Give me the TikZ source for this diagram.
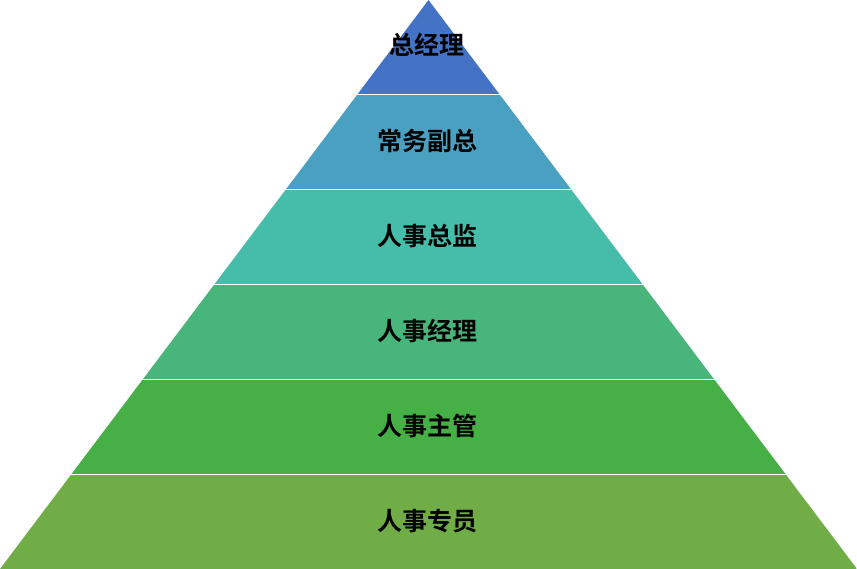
\documentclass[tikz,border=0pt]{standalone}
\usepackage{fontspec}
\newfontfamily\cjk{Noto Sans CJK SC}[BoldFont={Noto Sans CJK SC Bold}]
\begin{document}
\begin{tikzpicture}[x=1pt,y=1pt,lbl/.style={font=\cjk\bfseries\fontsize{25}{28}\selectfont,text=black}]
\useasboundingbox (0,0) rectangle (857,569);
\begin{scope}
\clip (0,0) -- (428.5,569) -- (857,0) -- cycle;
\fill[color={rgb,255:red,68;green,114;blue,196}] (0,474.2) rectangle (857,569);
\fill[color={rgb,255:red,74;green,160;blue,192}] (0,379.3) rectangle (857,474.2);
\fill[color={rgb,255:red,69;green,189;blue,168}] (0,284.5) rectangle (857,379.3);
\fill[color={rgb,255:red,72;green,182;blue,122}] (0,189.7) rectangle (857,284.5);
\fill[color={rgb,255:red,70;green,176;blue,70}] (0,94.8) rectangle (857,189.7);
\fill[color={rgb,255:red,112;green,173;blue,71}] (0,0) rectangle (857,94.8);
\foreach \y in {94.8,189.7,284.5,379.3,474.2} \draw[white,line width=0.8] (0,\y) -- (857,\y);
\end{scope}
\node[lbl] (l1) at (427,524) {总经理};
\node[lbl] (l2) at (427,428) {常务副总};
\node[lbl] (l3) at (427,333) {人事总监};
\node[lbl] (l4) at (427,238) {人事经理};
\node[lbl] (l5) at (427,143) {人事主管};
\node[lbl] (l6) at (427,48) {人事专员};
\end{tikzpicture}
\end{document}
